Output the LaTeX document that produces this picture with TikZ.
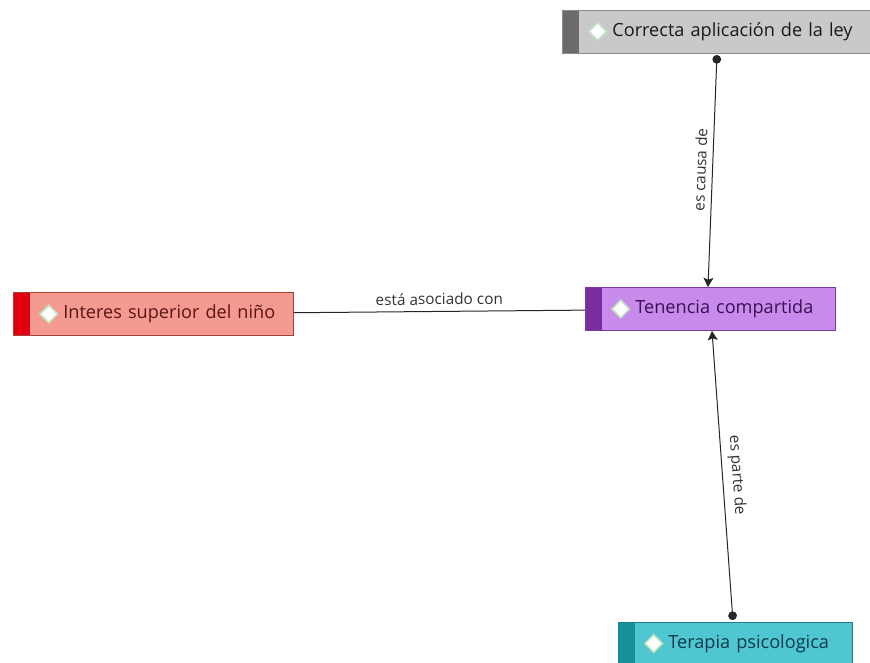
\documentclass[tikz,border=0pt]{standalone}
\usepackage{fontspec}
\setmainfont{Open Sans}
\usetikzlibrary{arrows.meta, positioning}

\definecolor{grisfondo}{HTML}{C9C9C9}
\definecolor{grisfranja}{HTML}{6B6B6B}
\definecolor{grisborde}{HTML}{8C8C8C}
\definecolor{rojofondo}{HTML}{F59A91}
\definecolor{rojofranja}{HTML}{E0000F}
\definecolor{rojoborde}{HTML}{A8403A}
\definecolor{rojotexto}{HTML}{5A1414}
\definecolor{lilafondo}{HTML}{C98BEB}
\definecolor{lilafranja}{HTML}{7B2DA0}
\definecolor{lilaborde}{HTML}{7A3AA0}
\definecolor{lilatexto}{HTML}{3A1052}
\definecolor{cianfondo}{HTML}{4FC6D0}
\definecolor{cianfranja}{HTML}{16909A}
\definecolor{cianborde}{HTML}{1C7F89}
\definecolor{ciantexto}{HTML}{0C3A48}

\tikzset{
  concepto/.style={rectangle, anchor=west, inner xsep=0pt, inner ysep=0pt,
    minimum height=32.25pt, align=left, line width=0.6pt,
    font=\fontsize{13.6}{15}\selectfont},
  franja/.style={path picture={
      \fill[#1] (path picture bounding box.south west) rectangle ([xshift=12.75pt]path picture bounding box.north west);
      \filldraw[fill=white, draw=green!40!gray!35, line width=1.2pt]
        ([xshift=20pt]path picture bounding box.west) -- ++(6.5pt,6.5pt)
        -- ++(6.5pt,-6.5pt) -- ++(-6.5pt,-6.5pt) -- cycle;}},
  enlace/.style={line width=0.75pt, black!85},
  etiqueta/.style={font=\fontsize{11.5}{13}\selectfont, text=black!80, sloped,
    above=3.5pt, inner sep=1pt},
  punta/.style={{Circle[length=6.5pt]}-{Stealth[length=7pt, width=7.5pt, inset=1.5pt]},
    shorten <=1.2pt},
}

\begin{document}
\begin{tikzpicture}[x=0.75pt, y=-0.75pt]
  \clip (0,0) rectangle (870,663);

  % Conceptos
  \node[concepto, fill=grisfondo, draw=grisborde, text=black!90, franja=grisfranja,
    text width=240pt] (ley) at (562,31.5) {\hspace*{37.5pt}Correcta aplicación de la ley};
  \node[concepto, fill=rojofondo, draw=rojoborde, text=rojotexto, franja=rojofranja,
    text width=210pt] (interes) at (13,314) {\hspace*{37.5pt}Interes superior del niño};
  \node[concepto, fill=lilafondo, draw=lilaborde, text=lilatexto, franja=lilafranja,
    text width=187.5pt] (tenencia) at (585,309) {\hspace*{37.5pt}Tenencia compartida};
  \node[concepto, fill=cianfondo, draw=cianborde, text=ciantexto, franja=cianfranja,
    text width=175.5pt] (terapia) at (618,643.5) {\hspace*{37.5pt}Terapia psicologica};

  % Enlaces
  \draw[enlace, punta] ([xshift=116.25pt]ley.south west)
    -- node[etiqueta] {es causa de} ([xshift=92.25pt]tenencia.north west);
  \draw[enlace] (interes) -- node[etiqueta] {está asociado con} (tenencia);
  \draw[enlace, punta] ([xshift=86.25pt]terapia.north west)
    -- node[etiqueta] {es parte de} ([xshift=95.25pt]tenencia.south west);

\end{tikzpicture}
\end{document}
